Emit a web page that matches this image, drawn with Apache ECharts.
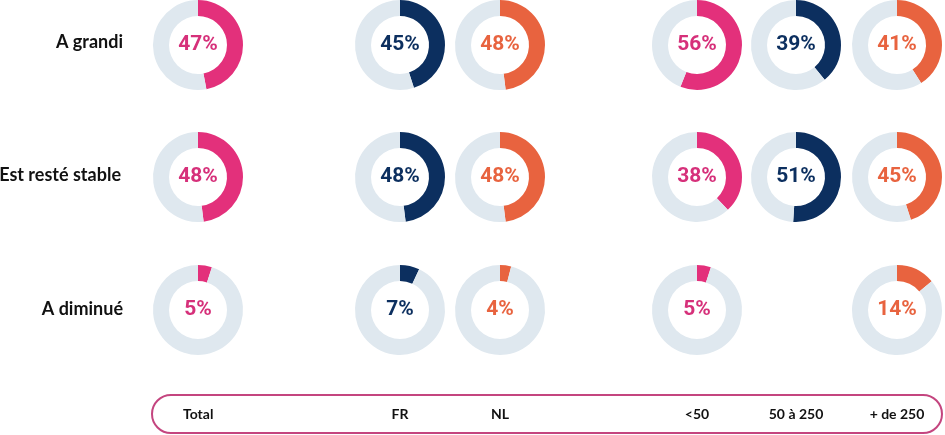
<!DOCTYPE html>
<html>
<head>
<meta charset="utf-8">
<script src="https://cdn.jsdelivr.net/npm/echarts@6/dist/echarts.min.js"></script>
<style>
html,body{margin:0;padding:0;background:#fff;}
#c{width:945px;height:435px;}
</style>
</head>
<body>
<div id="c"></div>
<script>
// ---- data ----
const categories = ['Total', 'FR', 'NL', '<50', '50 à 250', '+ de 250'];
const rowLabels = ['A grandi', 'Est resté stable', 'A diminué'];
const aGrandi = [47, 45, 48, 56, 39, 41];
const estResteStable = [48, 48, 48, 38, 51, 45];
const aDiminue = [5, 7, 4, 5, null, 14];

// ---- styling / layout ----
const PINK = '#e3307b', NAVY = '#0c2f5f', ORANGE = '#e8633f', TRACK = '#dfe8ef';
const TEXT_PINK = '#d6307a';
const colColors = [PINK, NAVY, ORANGE, PINK, NAVY, ORANGE];
const textColors = [TEXT_PINK, NAVY, ORANGE, TEXT_PINK, NAVY, ORANGE];
const colX = [198, 400, 500, 697, 796, 897];
const rowY = [45, 177, 310];
const rowLabelX = [123, 121, 123];
const rowLabelY = [42, 175, 309];
const rowsData = [aGrandi, estResteStable, aDiminue];

const series = [];
rowsData.forEach((vals, r) => {
  vals.forEach((v, c) => {
    if (v == null) return;
    series.push({
      type: 'pie',
      silent: true,
      center: [colX[c], rowY[r]],
      radius: [29, 45],
      startAngle: 90,
      clockwise: true,
      avoidLabelOverlap: false,
      emphasis: { disabled: true },
      labelLine: { show: false },
      data: [
        { value: v, itemStyle: { color: colColors[c] },
          label: { show: true, position: 'center', formatter: '{c}%',
                   color: textColors[c], fontFamily: 'Roboto', fontWeight: 'bold', fontSize: 21 } },
        { value: 100 - v, itemStyle: { color: TRACK }, label: { show: false } }
      ]
    });
  });
});

const graphics = [];
rowLabels.forEach((t, r) => {
  graphics.push({
    type: 'text', x: rowLabelX[r], y: rowLabelY[r],
    style: { text: t, align: 'right', verticalAlign: 'middle',
             font: 'bold 18px "Lato", sans-serif', fill: '#111' }
  });
});
graphics.push({
  type: 'rect', shape: { x: 152, y: 395, width: 790, height: 38, r: 19 },
  style: { fill: 'none', stroke: '#c4457f', lineWidth: 2 }
});
categories.forEach((t, c) => {
  graphics.push({
    type: 'text', x: c === 0 ? 183 : colX[c], y: 414,
    style: { text: t, align: c === 0 ? 'left' : 'center', verticalAlign: 'middle',
             font: 'bold 14px "Lato", sans-serif', fill: '#111' }
  });
});

const chart = echarts.init(document.getElementById('c'), null, { renderer: 'canvas' });
chart.setOption({
  animation: false,
  backgroundColor: '#fff',
  series: series,
  graphic: graphics
});
</script>
</body>
</html>
